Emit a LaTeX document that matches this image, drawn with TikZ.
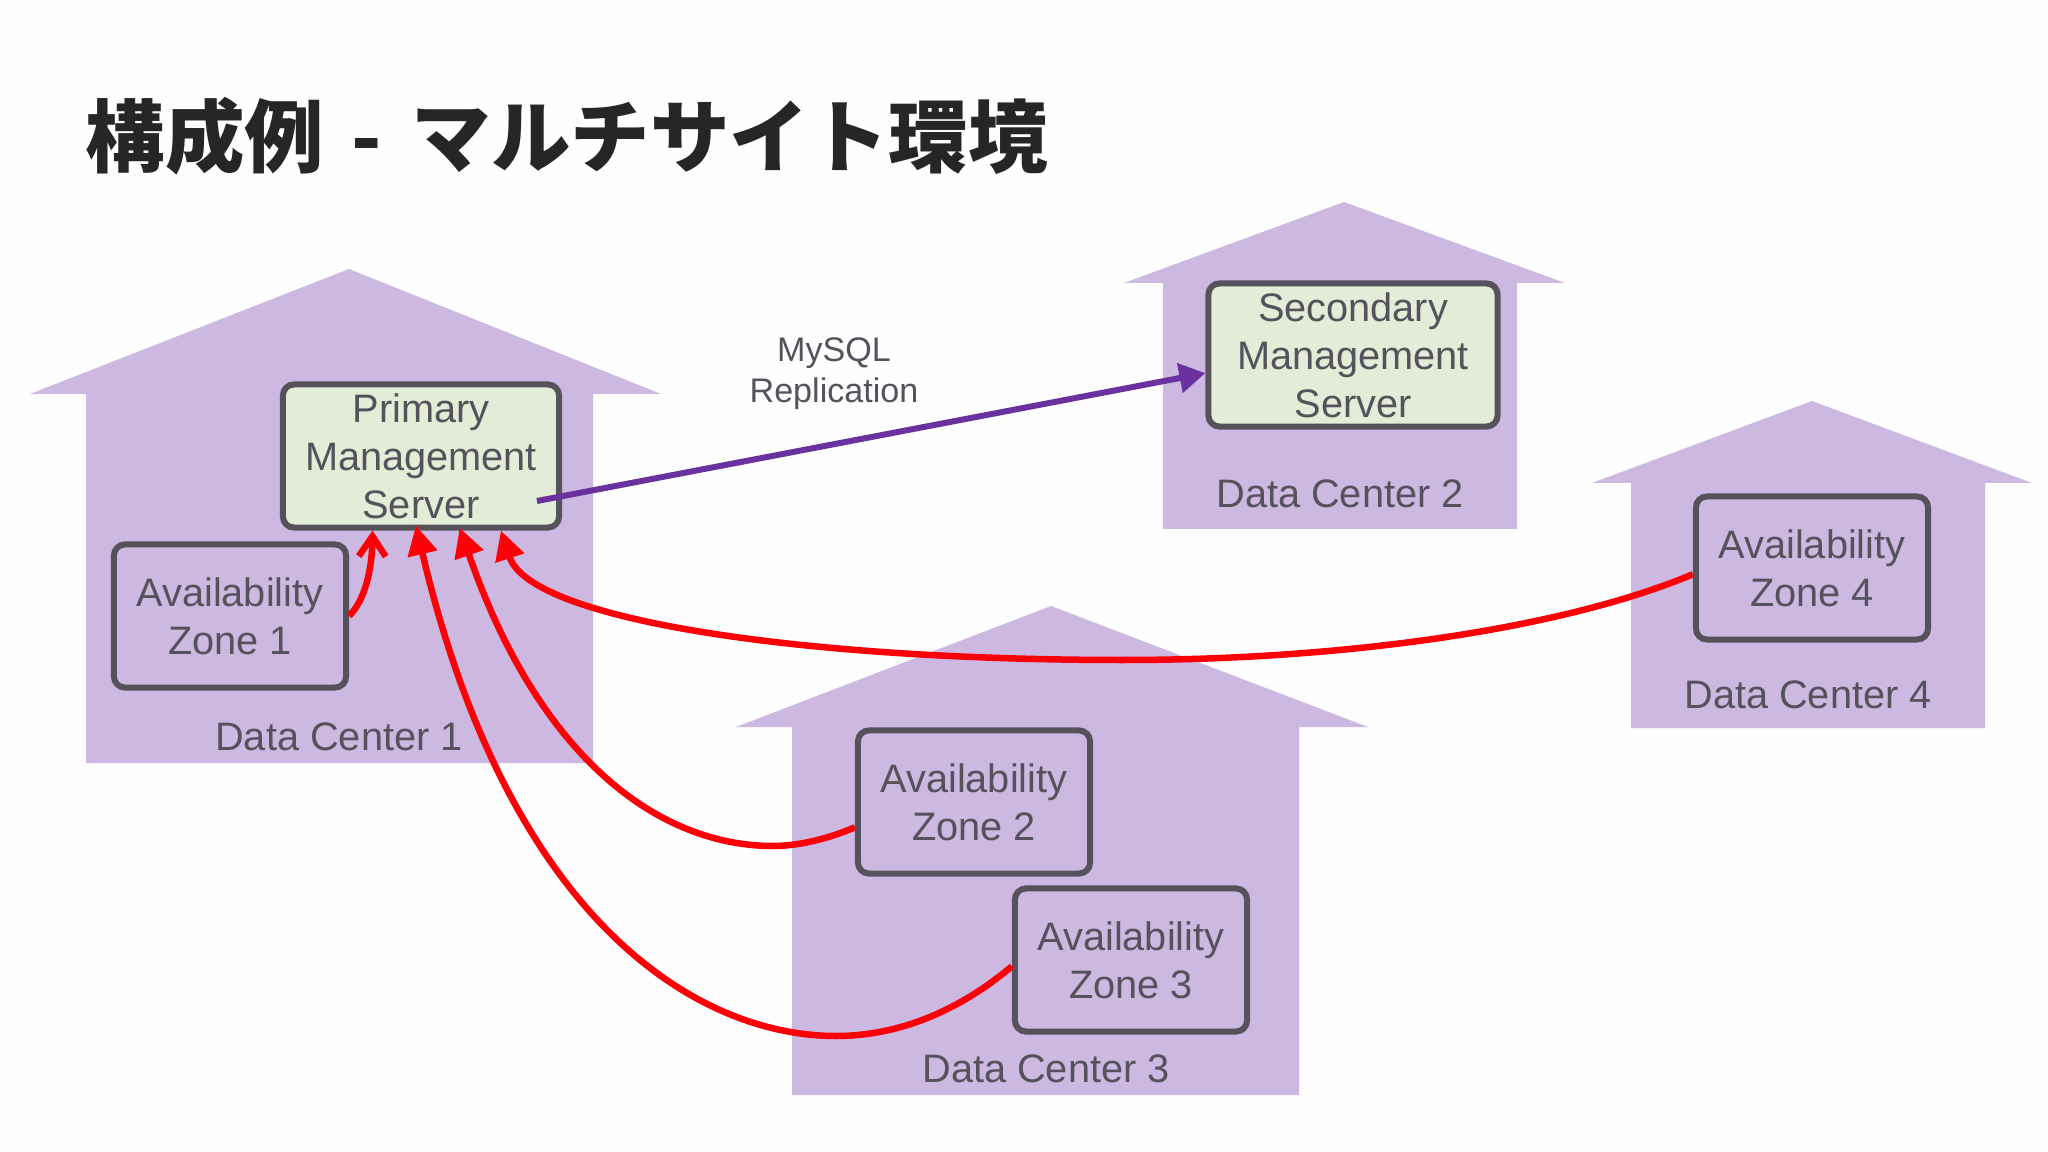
\documentclass[tikz,border=0pt]{standalone}
\usepackage{fontspec}
\setmainfont{Liberation Sans}
\newfontfamily\cjk{Noto Sans CJK JP}
\usetikzlibrary{arrows.meta}
\definecolor{housecol}{HTML}{CDB8E1}
\definecolor{inkcol}{HTML}{55525C}
\definecolor{greencol}{HTML}{E2ECD6}
\definecolor{replcol}{HTML}{6A329F}
\definecolor{redcol}{HTML}{FB0007}
\begin{document}
\begin{tikzpicture}[x=0.01cm,y=-0.01cm,
	house/.style={fill=housecol},
	box/.style={draw=inkcol,line width=0.06cm,rounded corners=0.11cm,inner sep=0pt,
		minimum height=1.43cm,align=center,text=inkcol,font=\fontsize{11.3}{13.6}\selectfont},
	zone/.style={box,minimum width=2.32cm},
	server/.style={box,fill=greencol},
	dclabel/.style={anchor=base,inner sep=0pt,text=inkcol,font=\fontsize{11.3}{13.6}\selectfont},
	link/.style={draw=redcol,line width=0.065cm,-{Triangle[length=0.29cm,width=0.29cm]}},
	]
	\useasboundingbox (0,0) rectangle (2048,1152);
	\fill[white!99.5!black] (0,0) rectangle (2048,1152);

	% title
	\node[anchor=base west,inner sep=0pt,text=black!85] (title) at (85,167)
		{\cjk\bfseries\fontsize{22.6}{27}\selectfont 構成例\hspace{2.6pt} - \hspace{3.3pt}マルチサイト環境};

	% houses
	\fill[house] (349,269) -- (661,394) -- (593,394) -- (593,763) -- (86,763) -- (86,394) -- (30,394) -- cycle;
	\fill[house] (1344,202) -- (1565,283) -- (1517,283) -- (1517,529) -- (1163,529) -- (1163,283) -- (1124,283) -- cycle;
	\fill[house] (1051,606) -- (1368,727) -- (1299,727) -- (1299,1095) -- (792,1095) -- (792,727) -- (736,727) -- cycle;
	\fill[house] (1812,401) -- (2032,483) -- (1985,483) -- (1985,728) -- (1631,728) -- (1631,483) -- (1592,483) -- cycle;

	% boxes
	\node[server,minimum width=2.76cm] (prim) at (421,456) {Primary\\Management\\Server};
	\node[server,minimum width=2.89cm] (sec) at (1353,355) {Secondary\\Management\\Server};
	\node[zone] (az1) at (230,616) {Availability\\Zone 1};
	\node[zone] (az2) at (974,802) {Availability\\Zone 2};
	\node[zone] (az3) at (1131,960) {Availability\\Zone 3};
	\node[zone] (az4) at (1812,568) {Availability\\Zone 4};

	% labels
	\node[dclabel] (dc1) at (339,750) {Data Center 1};
	\node[dclabel] (dc2) at (1340,508) {Data Center 2};
	\node[dclabel] (dc3) at (1046,1082) {Data Center 3};
	\node[dclabel] (dc4) at (1808,708) {Data Center 4};
	\node[inner sep=0pt,align=center,text=inkcol,font=\fontsize{9.7}{11.7}\selectfont] (repl) at (834,374) {MySQL\hspace{2.4pt}\\Replication};

	% connectors
	\coordinate (replout) at (537,501);
	\draw[draw=replcol,line width=0.06cm,-{Triangle[length=0.26cm,width=0.29cm]}] (replout) -- (sec.187.7);
	\draw[draw=redcol,line width=0.065cm,-{Straight Barb[length=0.2cm,width=0.27cm]}]
		(az1.east) .. controls (365,600) and (372,570) .. (prim.237);
	\draw[link,shorten >=-0.05cm] (az3.183) .. controls (960,1010) and (900,1036) .. (836,1036)
		.. controls (700,1036) and (510,925) .. (prim.267);
	\draw[link,shorten >=-0.03cm] (az2.192) .. controls (830,838) and (800,846) .. (773,846)
		.. controls (660,846) and (540,760) .. (prim.298.4);
	\draw[link] (az4.183.4) .. controls (1560,630) and (1340,660) .. (1123,660)
		.. controls (800,660) and (530,620) .. (prim.317.2);
\end{tikzpicture}
\end{document}
